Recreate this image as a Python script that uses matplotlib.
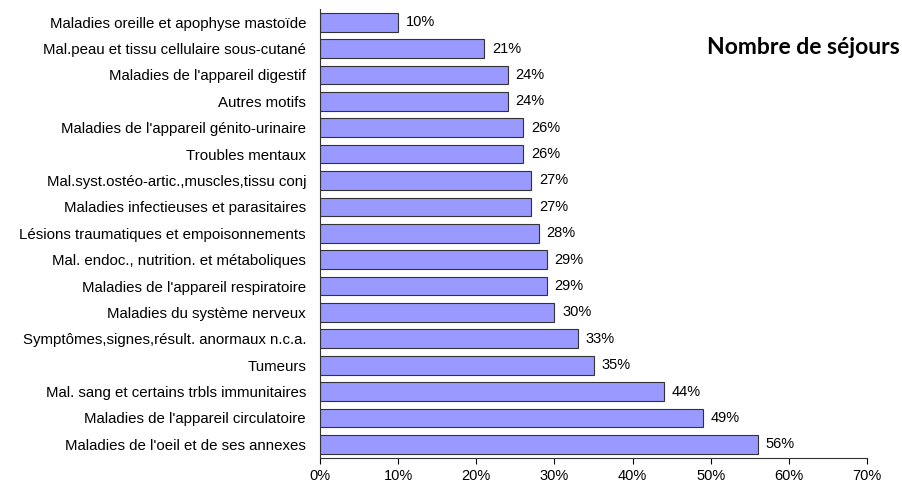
import matplotlib
matplotlib.use("Agg")
import matplotlib.pyplot as plt
from matplotlib.ticker import FuncFormatter

categories = [
    "Maladies oreille et apophyse mastoïde",
    "Mal.peau et tissu cellulaire sous-cutané",
    "Maladies de l'appareil digestif",
    "Autres motifs",
    "Maladies de l'appareil génito-urinaire",
    "Troubles mentaux",
    "Mal.syst.ostéo-artic.,muscles,tissu conj",
    "Maladies infectieuses et parasitaires",
    "Lésions traumatiques et empoisonnements",
    "Mal. endoc., nutrition. et métaboliques",
    "Maladies de l'appareil respiratoire",
    "Maladies du système nerveux",
    "Symptômes,signes,résult. anormaux n.c.a.",
    "Tumeurs",
    "Mal. sang et certains trbls immunitaires",
    "Maladies de l'appareil circulatoire",
    "Maladies de l'oeil et de ses annexes",
]
values = [10, 21, 24, 24, 26, 26, 27, 27, 28, 29, 29, 30, 33, 35, 44, 49, 56]
title = "Nombre de séjours"

plt.rcParams['font.family'] = ['Liberation Sans', 'DejaVu Sans']

fig = plt.figure(figsize=(9.02, 4.84), dpi=100)
ax = fig.add_axes([320/902, 1-457.5/484, (867-320)/902, (457.5-9)/484])

pos = list(range(len(categories)))
ax.barh(pos, values, height=0.71, color="#9999FF", edgecolor="#333333", linewidth=0.8)
ax.set_ylim(len(categories)-0.5, -0.5)
ax.set_xlim(0, 70)
ax.set_xticks(range(0, 71, 10))
ax.xaxis.set_major_formatter(FuncFormatter(lambda v, p: f"{int(v)}%"))
ax.set_yticks(pos)
ax.set_yticklabels(categories, fontsize=10.8)
ax.tick_params(axis='y', length=0, pad=10)
ax.tick_params(axis='x', length=4, labelsize=10.5, pad=4)
for s in ("top", "right"):
    ax.spines[s].set_visible(False)
for s in ("left", "bottom"):
    ax.spines[s].set_color("#333333")
    ax.spines[s].set_linewidth(0.8)

for p, v in zip(pos, values):
    ax.text(v + 1.0, p, f"{v}%", va="center", ha="left", fontsize=10.5)

fig.text(900/902, 1-48/484, title, ha="right", va="center", fontsize=16.5,
         fontweight="bold", family=["Lato", "DejaVu Sans"])

fig.savefig("out.png", dpi=100)
